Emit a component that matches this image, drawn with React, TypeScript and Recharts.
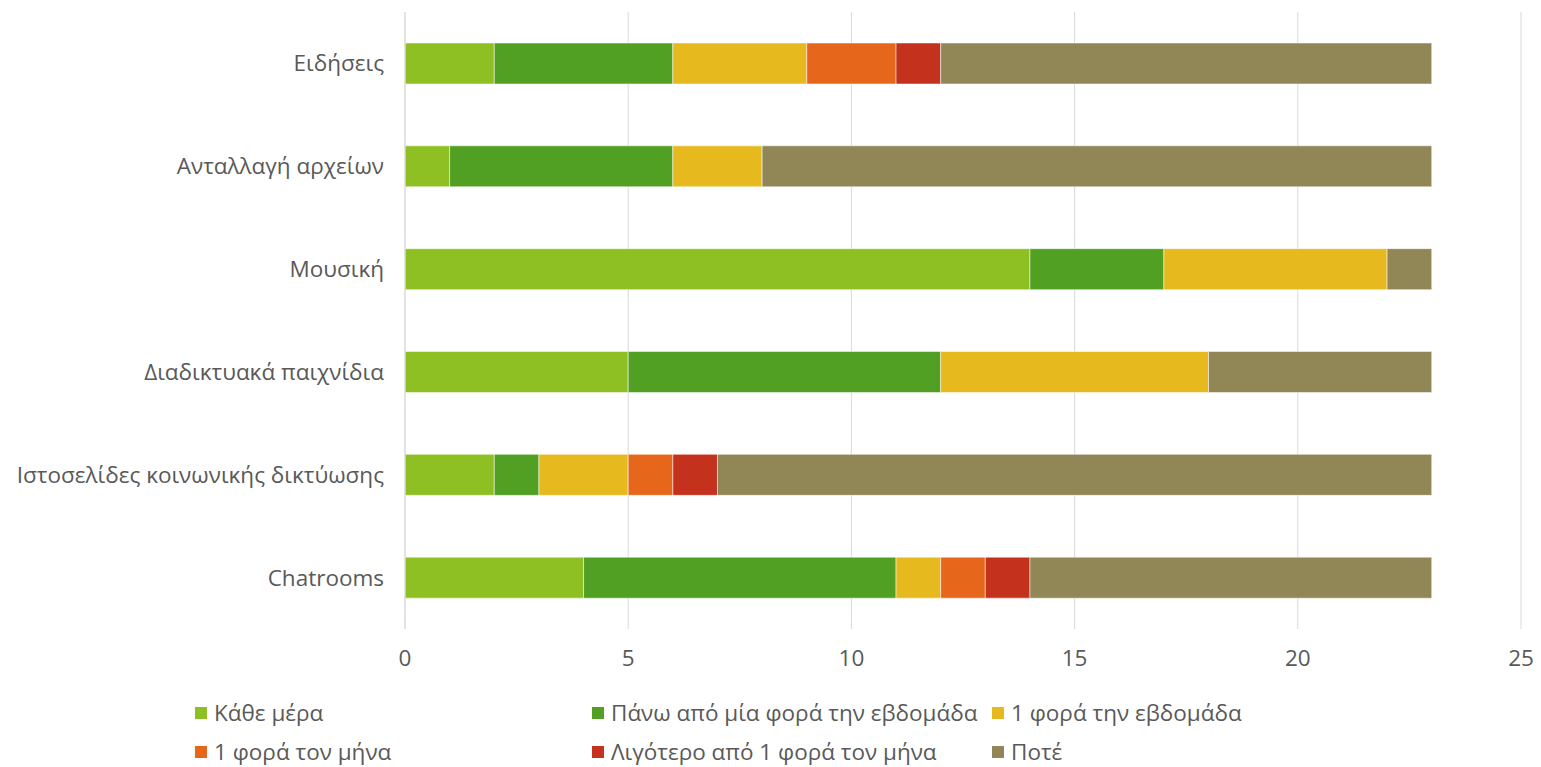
import { BarChart, Bar, XAxis, YAxis, CartesianGrid, Legend } from "recharts"

const categories = [
    "Ειδήσεις",
    "Ανταλλαγή αρχείων",
    "Μουσική",
    "Διαδικτυακά παιχνίδια",
    "Ιστοσελίδες κοινωνικής δικτύωσης",
    "Chatrooms",
]

const seriesNames = [
    "Κάθε μέρα",
    "Πάνω από μία φορά την εβδομάδα",
    "1 φορά την εβδομάδα",
    "1 φορά τον μήνα",
    "Λιγότερο από 1 φορά τον μήνα",
    "Ποτέ",
]

const everyDay = [2, 1, 14, 5, 2, 4]
const moreThanWeekly = [4, 5, 3, 7, 1, 7]
const weekly = [3, 2, 5, 6, 2, 1]
const monthly = [2, 0, 0, 0, 1, 1]
const lessThanMonthly = [1, 0, 0, 0, 1, 1]
const never = [11, 15, 1, 5, 16, 9]

const xTicks = [0, 5, 10, 15, 20, 25]

const COLORS = ["#8FC023", "#52A023", "#E6B91E", "#E6671B", "#C4311C", "#918655"]
const FONT = "'Open Sans', sans-serif"
const FONT_SIZE = 22.5

const seriesValues = [everyDay, moreThanWeekly, weekly, monthly, lessThanMonthly, never]
const keys = ["s0", "s1", "s2", "s3", "s4", "s5"]

const data = categories.map((name, i) => {
    const row: { [key: string]: any } = { name }
    seriesValues.forEach((vals, s) => {
        row[keys[s]] = vals[i]
    })
    return row
})

const LegendContent = () => {
    const colLeft = [195, 592, 992]
    return (
        <div style={{ position: "relative", width: 1541, height: 88 }}>
            {seriesNames.map((label, i) => {
                const col = i % 3
                const row = Math.floor(i / 3)
                return (
                    <div
                        key={label}
                        style={{
                            position: "absolute",
                            left: colLeft[col],
                            top: 21 + row * 39,
                            display: "flex",
                            alignItems: "center",
                            fontFamily: FONT,
                            fontSize: FONT_SIZE,
                            color: "#595959",
                            whiteSpace: "nowrap",
                            lineHeight: "26px",
                        }}
                    >
                        <span
                            style={{
                                display: "inline-block",
                                width: 12,
                                height: 12,
                                background: COLORS[i],
                                marginRight: 7,
                            }}
                        />
                        {label}
                    </div>
                )
            })}
        </div>
    )
}

export default function App() {
    return (
        <div style={{ position: "absolute", left: 0, top: 0, background: "#fff" }}>
            <BarChart
                width={1541}
                height={767}
                data={data}
                layout="vertical"
                barCategoryGap={0}
                barSize={41}
                margin={{ top: 12, right: 20, left: 0, bottom: 0 }}
            >
                <CartesianGrid horizontal={false} stroke="#d9d9d9" strokeWidth={1} />
                <XAxis
                    type="number"
                    domain={[0, 25]}
                    ticks={xTicks}
                    axisLine={false}
                    tickLine={false}
                    tickSize={0}
                    tickMargin={21}
                    height={50}
                    tick={{ fill: "#595959", fontSize: FONT_SIZE, fontFamily: FONT }}
                />
                <YAxis
                    type="category"
                    dataKey="name"
                    width={405}
                    axisLine={{ stroke: "#d9d9d9" }}
                    tickLine={false}
                    tickSize={0}
                    tickMargin={21}
                    tick={{ fill: "#595959", fontSize: FONT_SIZE, fontFamily: FONT }}
                />
                <Legend verticalAlign="bottom" height={88} content={<LegendContent />} />
                {keys.map((k, s) => (
                    <Bar
                        key={k}
                        dataKey={k}
                        name={seriesNames[s]}
                        stackId="a"
                        fill={COLORS[s]}
                        stroke="#ffffff"
                        strokeOpacity={0.5}
                        strokeWidth={1}
                        isAnimationActive={false}
                    />
                ))}
            </BarChart>
        </div>
    )
}
